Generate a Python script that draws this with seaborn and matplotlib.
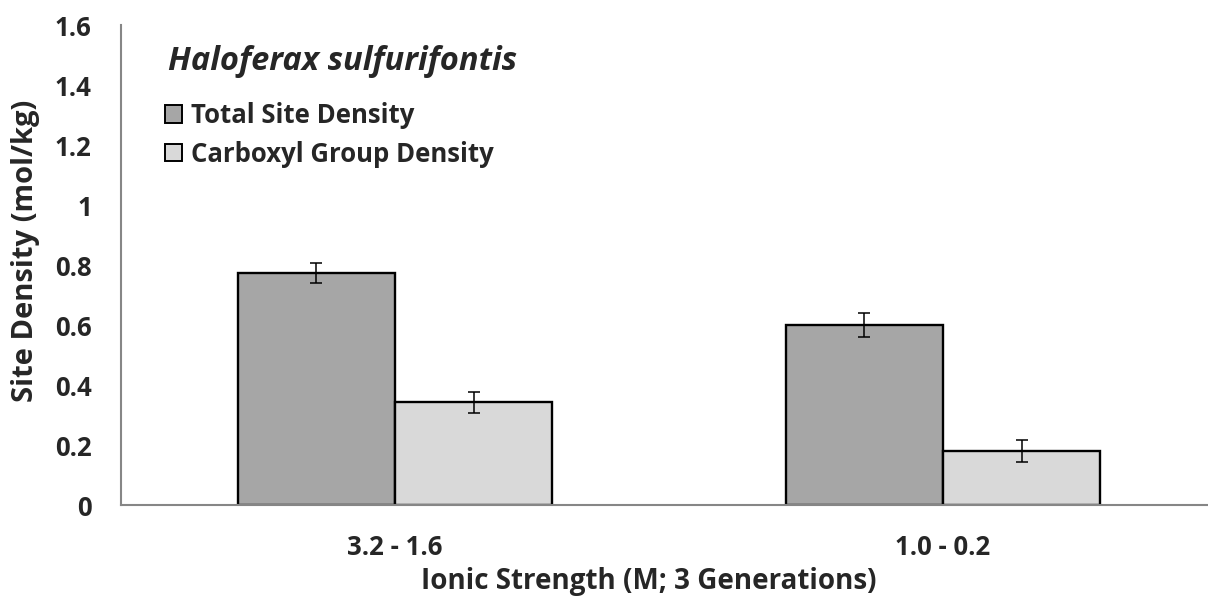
import matplotlib
matplotlib.use("Agg")
import matplotlib.pyplot as plt
import seaborn as sns
import pandas as pd

# Data
categories = ["3.2 - 1.6", "1.0 - 0.2"]
series = ["Total Site Density", "Carboxyl Group Density"]
total_density = [0.773, 0.600]
carboxyl_density = [0.342, 0.180]
total_err = [0.034, 0.040]
carboxyl_err = [0.035, 0.036]
y_ticks = [0, 0.2, 0.4, 0.6, 0.8, 1, 1.2, 1.4, 1.6]
y_tick_labels = ["0", "0.2", "0.4", "0.6", "0.8", "1", "1.2", "1.4", "1.6"]

df = pd.DataFrame({
    "Ionic Strength": categories * 2,
    "Series": [series[0]] * 2 + [series[1]] * 2,
    "Density": total_density + carboxyl_density,
    "Err": total_err + carboxyl_err,
})

sns.set_style("white")
plt.rcParams["font.family"] = ["Open Sans", "DejaVu Sans"]
plt.rcParams["font.weight"] = "bold"

TICK_FS = 18.5
XLABEL_FS = 20
YLABEL_FS = 21
LEGEND_FS = 18.5
TITLE_FS = 23.5

W, H = 1208, 599
fig = plt.figure(figsize=(W / 100, H / 100), dpi=100)
# plot area: x axis runs past the right edge of the canvas
ax_left, ax_right, ax_top, ax_bottom = 121, 1217, 25, 505
ax = fig.add_axes([ax_left / W, 1 - ax_bottom / H,
                   (ax_right - ax_left) / W, (ax_bottom - ax_top) / H])

palette = {series[0]: "#A6A6A6", series[1]: "#D9D9D9"}
sns.barplot(data=df, x="Ionic Strength", y="Density", hue="Series",
            order=categories, hue_order=series, palette=palette,
            width=0.573, saturation=1, edgecolor="black", linewidth=1.7,
            errorbar=None, ax=ax)

# Error bars on each bar centre
for container, s in zip(ax.containers, series):
    sub = df[df["Series"] == s].set_index("Ionic Strength").loc[categories]
    xs = [p.get_x() + p.get_width() / 2 for p in container.patches]
    hs = [p.get_height() for p in container.patches]
    ax.errorbar(xs, hs, yerr=sub["Err"].values, fmt="none", ecolor="black",
                elinewidth=1.1, capsize=4.5, capthick=1.1, zorder=5)

ax.set_xlim(-0.5, 1.5)
ax.set_ylim(0, 1.6)
ax.set_yticks(y_ticks)
ax.set_yticklabels(y_tick_labels)

# Category-boundary ticks on the x axis
ax.set_xticks([0, 1])
ax.set_xticklabels(categories)
ax.set_xticks([-0.5, 0.5, 1.5], minor=True)
ax.tick_params(axis="x", which="major", length=0, pad=21, labelsize=TICK_FS)
ax.tick_params(axis="x", which="minor", length=6, width=1.3, color="#868686",
               direction="out")
ax.tick_params(axis="y", length=7, width=1.3, color="#868686", direction="out",
               pad=14, labelsize=TICK_FS)
for lab in ax.get_xticklabels() + ax.get_yticklabels():
    lab.set_fontweight("bold")

for side in ["top", "right"]:
    ax.spines[side].set_visible(False)
for side in ["left", "bottom"]:
    ax.spines[side].set_color("#868686")
    ax.spines[side].set_linewidth(1.5)


def to_ax(px, py):
    return ((px - ax_left) / (ax_right - ax_left),
            1 - (py - ax_top) / (ax_bottom - ax_top))


ax.set_xlabel("Ionic Strength (M; 3 Generations)", fontsize=XLABEL_FS,
              fontweight="bold")
ax.xaxis.set_label_coords(*to_ax(649, 582))
ax.xaxis.label.set_va("center")
ax.set_ylabel("Site Density (mol/kg)", fontsize=YLABEL_FS, fontweight="bold")
ax.yaxis.set_label_coords(*to_ax(26, 251))
ax.yaxis.label.set_va("center")

ax.text(*to_ax(168, 62), "Haloferax sulfurifontis", transform=ax.transAxes,
        fontsize=TITLE_FS, fontstyle="italic", fontweight="bold",
        va="center", ha="left")

handles, labels = ax.get_legend_handles_labels()
leg = ax.legend(handles, labels, loc="upper left",
                bbox_to_anchor=to_ax(165, 102),
                frameon=False, fontsize=LEGEND_FS, handlelength=0.65,
                handleheight=0.65, handletextpad=0.38, labelspacing=0.46,
                borderaxespad=0, borderpad=0)
for t in leg.get_texts():
    t.set_fontweight("bold")
for h in leg.legend_handles:
    h.set_edgecolor("black")
    h.set_linewidth(1.4)

fig.savefig("out.png", dpi=100)
